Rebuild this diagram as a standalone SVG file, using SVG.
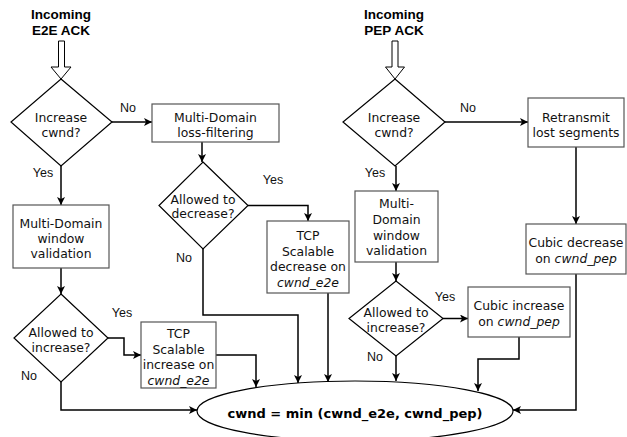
<svg xmlns="http://www.w3.org/2000/svg" width="627" height="437" viewBox="0 0 627 437">
<defs>
<marker id="ah" viewBox="0 0 10 10" refX="10" refY="5" markerWidth="8" markerHeight="8" markerUnits="userSpaceOnUse" orient="auto">
<path d="M0,0 L10,5 L0,10 L2.5,5 Z" fill="#000"/>
</marker>
<style>
.box{fill:#fff;stroke:#555;stroke-width:1.2}
.dia{fill:#fff;stroke:#000;stroke-width:1.2}
.t{font-family:"DejaVu Sans",Verdana,sans-serif;font-size:12.4px;text-anchor:middle;fill:#111}
.i{font-style:italic}
.lbl{font-family:"Liberation Sans",Arial,sans-serif;font-size:12.5px;text-anchor:middle;fill:#111}
.title{font-family:"Liberation Sans",Arial,sans-serif;font-weight:bold;font-size:13.5px;text-anchor:middle;fill:#000}
.c{fill:none;stroke:#000;stroke-width:1.5;marker-end:url(#ah)}
.hollow{fill:#fff;stroke:#000;stroke-width:1}
.bold{font-family:"DejaVu Sans",Verdana,sans-serif;font-weight:bold;font-size:13px;text-anchor:middle;fill:#000}
</style>
</defs>
<rect width="627" height="437" fill="#fff"/>

<g id="connectors">
<polygon class="hollow" points="58.5,41 64.5,41 64.5,67 71,67 61,79 51,67 58.5,67"/>
<polygon class="hollow" points="392,41 398,41 398,67 404.5,67 395,79 385.5,67 392,67"/>
<path class="c" d="M112,122 H152"/>
<path class="c" d="M61,166 V205"/>
<path class="c" d="M202,142 V162"/>
<path class="c" d="M248,205.5 H308 V221"/>
<path class="c" d="M203,249 V315 H298 V383"/>
<path class="c" d="M61,268 V294"/>
<path class="c" d="M108,338 H124 V355 H141"/>
<path class="c" d="M61,382 V410 H197"/>
<path class="c" d="M216,355 H256 V387"/>
<path class="c" d="M328,293 V382"/>
<path class="c" d="M445,122 H528"/>
<path class="c" d="M396,166 V191"/>
<path class="c" d="M396,262 V281"/>
<path class="c" d="M443,318.5 H468"/>
<path class="c" d="M396,356 V381"/>
<path class="c" d="M519,337 V359 H478 V391"/>
<path class="c" d="M576,147 V224"/>
<path class="c" d="M576,274 V410 H513"/>
</g>

<g id="title-e2e">
<text class="title" x="61" y="19">Incoming</text>
<text class="title" x="61" y="35">E2E ACK</text>
</g>
<g id="title-pep">
<text class="title" x="394" y="19">Incoming</text>
<text class="title" x="394" y="35">PEP ACK</text>
</g>

<g id="d-increase-e2e">
<polygon class="dia" points="61,79 112,122 61,166 11,122"/>
<text class="t" x="61" y="121.5">Increase</text>
<text class="t" x="61" y="136.5">cwnd?</text>
</g>

<g id="b-lossfilter">
<rect class="box" x="152" y="104" width="127" height="38"/>
<text class="t" x="215.5" y="121.5">Multi-Domain</text>
<text class="t" x="215.5" y="137">loss-filtering</text>
</g>

<g id="d-decrease">
<polygon class="dia" points="203,162 248,205.5 203,249 159,205.5"/>
<text class="t" x="203" y="203.5">Allowed to</text>
<text class="t" x="203" y="218">decrease?</text>
</g>

<g id="b-window-e2e">
<rect class="box" x="13" y="205" width="96" height="63"/>
<text class="t" x="61" y="227.5">Multi-Domain</text>
<text class="t" x="61" y="242.5">window</text>
<text class="t" x="61" y="257.5">validation</text>
</g>

<g id="d-allowed-e2e">
<polygon class="dia" points="61,294 108,338 61,382 14,338"/>
<text class="t" x="61" y="336.5">Allowed to</text>
<text class="t" x="61" y="351.5">increase?</text>
</g>

<g id="b-tcp-inc">
<rect class="box" x="141" y="322" width="75" height="66"/>
<text class="t" x="178.5" y="337.5">TCP</text>
<text class="t" x="178.5" y="353.5">Scalable</text>
<text class="t" x="178.5" y="368.5">increase on</text>
<text class="t i" x="178.5" y="384.5">cwnd_e2e</text>
</g>

<g id="b-tcp-dec">
<rect class="box" x="267" y="221" width="82" height="72"/>
<text class="t" x="308" y="239.5">TCP</text>
<text class="t" x="308" y="255.5">Scalable</text>
<text class="t" x="308" y="271">decrease on</text>
<text class="t i" x="308" y="286.5">cwnd_e2e</text>
</g>

<g id="d-increase-pep">
<polygon class="dia" points="395,79 445,122 395,166 343,122"/>
<text class="t" x="394" y="121.5">Increase</text>
<text class="t" x="394" y="136.5">cwnd?</text>
</g>

<g id="b-retransmit">
<rect class="box" x="528" y="98" width="96" height="49"/>
<text class="t" x="576" y="121.5">Retransmit</text>
<text class="t" x="576" y="136.5">lost segments</text>
</g>

<g id="b-window-pep">
<rect class="box" x="355" y="191" width="83" height="71"/>
<text class="t" x="396.5" y="207.5">Multi-</text>
<text class="t" x="396.5" y="224">Domain</text>
<text class="t" x="396.5" y="239.5">window</text>
<text class="t" x="396.5" y="254.5">validation</text>
</g>

<g id="d-allowed-pep">
<polygon class="dia" points="396,281 443,318.5 396,356 349,318.5"/>
<text class="t" x="396" y="317">Allowed to</text>
<text class="t" x="396" y="332">increase?</text>
</g>

<g id="b-cubic-inc">
<rect class="box" x="468" y="287" width="102" height="50"/>
<text class="t" x="519" y="310">Cubic increase</text>
<text class="t" x="519" y="326">on <tspan class="i">cwnd_pep</tspan></text>
</g>

<g id="b-cubic-dec">
<rect class="box" x="526" y="224" width="100" height="50"/>
<text class="t" x="576" y="247">Cubic decrease</text>
<text class="t" x="576" y="263">on <tspan class="i">cwnd_pep</tspan></text>
</g>

<g id="e-min">
<ellipse cx="355" cy="411" rx="158" ry="30" fill="#fff" stroke="#000" stroke-width="1.2"/>
<text class="bold" x="355" y="417.5">cwnd = min (cwnd_e2e, cwnd_pep)</text>
</g>

<g id="labels">
<text class="lbl" x="128" y="112">No</text>
<text class="lbl" x="43" y="177">Yes</text>
<text class="lbl" x="273" y="184">Yes</text>
<text class="lbl" x="184" y="262">No</text>
<text class="lbl" x="122" y="317">Yes</text>
<text class="lbl" x="29" y="380">No</text>
<text class="lbl" x="468" y="112">No</text>
<text class="lbl" x="375" y="177">Yes</text>
<text class="lbl" x="445" y="301">Yes</text>
<text class="lbl" x="375" y="361">No</text>
</g>
</svg>
